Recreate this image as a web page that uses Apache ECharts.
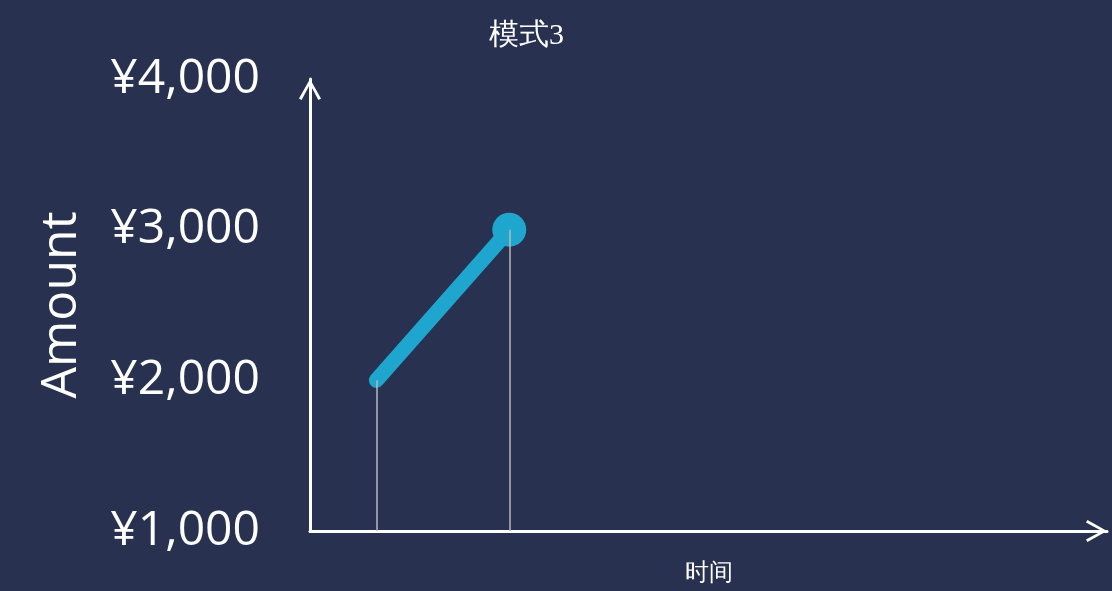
<!DOCTYPE html>
<html>
<head>
<meta charset="utf-8">
<script src="https://cdn.jsdelivr.net/npm/echarts@6/dist/echarts.min.js"></script>
<style>html,body{margin:0;padding:0;background:#283250;}#c{width:1112px;height:591px;}</style>
</head>
<body>
<div id="c"></div>
<script>
var xValues = [1, 3];
var amounts = [2000, 3000];
var yTicks = [1000, 2000, 3000, 4000];
var titleText = '模式3';
var xName = '时间';
var yName = 'Amount';

var chevron = 'path://M11,0 L22,19.5 L19.4,21 L11,5.2 L2.6,21 L0,19.5 Z';
var chart = echarts.init(document.getElementById('c'));
var lineData = xValues.map(function (x, i) {
  var item = { value: [x, amounts[i]] };
  if (i === xValues.length - 1) { item.symbol = 'circle'; item.symbolSize = 34; }
  else { item.symbol = 'none'; }
  return item;
});
var drops = xValues.map(function (x, i) {
  return [{ coord: [x, yTicks[0]] }, { coord: [x, amounts[i]] }];
});
chart.setOption({
  backgroundColor: '#283250',
  animation: false,
  title: {
    text: titleText, left: 484, top: 16,
    textStyle: { color: '#ffffff', fontSize: 30, fontWeight: 'normal', fontFamily: 'serif' }
  },
  grid: { left: 310, right: 5, top: 79, bottom: 58 },
  xAxis: {
    type: 'value', min: 0, max: 12,
    name: xName, nameLocation: 'middle', nameGap: 31,
    nameTextStyle: { color: '#ffffff', fontSize: 24, fontFamily: 'serif' },
    axisLine: { lineStyle: { color: '#ffffff', width: 3 }, symbol: ['none', chevron], symbolSize: [22, 21], symbolOffset: [0, -10.5] },
    axisTick: { show: false }, axisLabel: { show: false }, splitLine: { show: false }
  },
  yAxis: {
    type: 'value', min: yTicks[0], max: yTicks[yTicks.length - 1], interval: 1000,
    name: yName, nameLocation: 'middle', nameGap: 223,
    nameTextStyle: { color: '#ffffff', fontSize: 50, fontFamily: 'Open Sans' },
    axisLine: { show: true, lineStyle: { color: '#ffffff', width: 3 }, symbol: ['none', chevron], symbolSize: [22, 21], symbolOffset: [0, -10.5] },
    axisTick: { show: false },
    axisLabel: {
      color: '#ffffff', fontSize: 48, fontFamily: 'Open Sans', margin: 50,
      formatter: function (v) { return '¥' + v.toLocaleString('en-US'); }
    },
    splitLine: { show: false }
  },
  series: [{
    type: 'line',
    data: lineData,
    lineStyle: { color: '#1fa6cf', width: 15, cap: 'round' },
    itemStyle: { color: '#1fa6cf' },
    markLine: {
      silent: true, symbol: 'none', label: { show: false },
      lineStyle: { color: '#b8b8b8', width: 1.5, type: 'solid' },
      data: drops
    }
  }]
});
</script>
</body>
</html>
